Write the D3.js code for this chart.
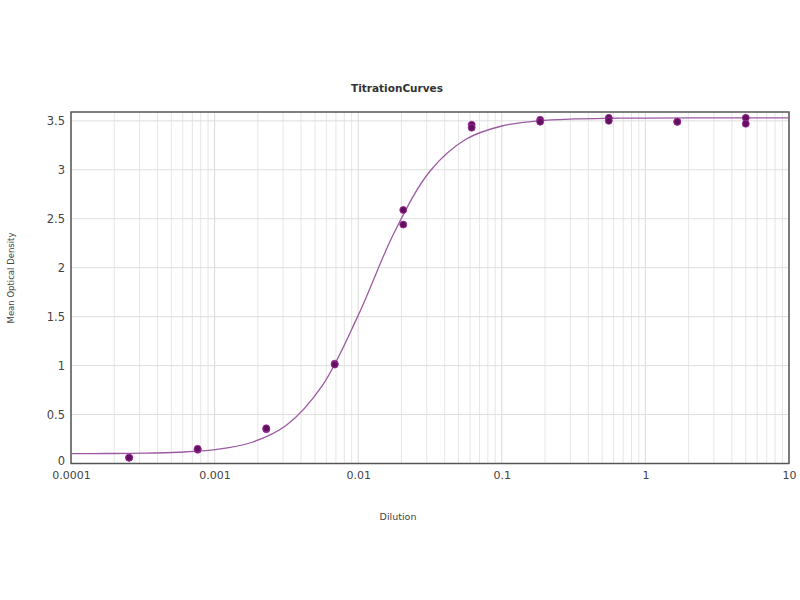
<!DOCTYPE html>
<html><head><meta charset="utf-8">
<script src="https://cdn.jsdelivr.net/npm/d3@7"></script>
<style>
body{margin:0;background:#fff;}
text{font-family:"DejaVu Sans",Arial,sans-serif;}
</style></head>
<body><svg id="c" width="800" height="600"></svg>
<script>
const dilutions = [0.000254, 0.000762, 0.00229, 0.00686, 0.0206, 0.0617, 0.185, 0.556, 1.667, 5];
const rep1 = [0.06, 0.14, 0.35, 1.02, 2.59, 3.46, 3.51, 3.53, 3.49, 3.53];
const rep2 = [0.06, 0.15, 0.36, 1.01, 2.44, 3.43, 3.49, 3.50, 3.49, 3.47];
const curveX = [0.0001, 0.000178, 0.000316, 0.000562, 0.001, 0.00178, 0.00316, 0.00562, 0.01, 0.0178, 0.0316, 0.0562, 0.1, 0.178, 0.316, 0.562, 1, 3.16, 10];
const curveY = [0.101, 0.102, 0.105, 0.115, 0.141, 0.212, 0.391, 0.796, 1.513, 2.357, 2.985, 3.311, 3.447, 3.499, 3.519, 3.526, 3.528, 3.53, 3.53];
const xTicks = [0.0001, 0.001, 0.01, 0.1, 1, 10];
const xTickLabels = ["0.0001", "0.001", "0.01", "0.1", "1", "10"];
const yTicks = [0, 0.5, 1, 1.5, 2, 2.5, 3, 3.5];
const yTickLabels = ["0", "0.5", "1", "1.5", "2", "2.5", "3", "3.5"];

const svg = d3.select("#c");
const L = 71, R = 789, T = 112, B = 463.5;
const x = d3.scaleLog().domain([0.0001, 10]).range([L, R]);
const y = d3.scaleLinear().domain([0, 3.59]).range([B, T]);

// minor vertical grid
const minor = [];
for (let e = -4; e < 1; e++) for (let k = 2; k <= 9; k++) minor.push(k * Math.pow(10, e));
svg.append("g").selectAll("line").data(minor).join("line")
  .attr("x1", d => x(d)).attr("x2", d => x(d)).attr("y1", T).attr("y2", B)
  .attr("stroke", "#e6e6e6").attr("stroke-width", 1);
svg.append("g").selectAll("line").data(xTicks).join("line")
  .attr("x1", d => x(d)).attr("x2", d => x(d)).attr("y1", T).attr("y2", B)
  .attr("stroke", "#dadada").attr("stroke-width", 1);
svg.append("g").selectAll("line").data(yTicks.slice(1)).join("line")
  .attr("x1", L).attr("x2", R).attr("y1", d => y(d)).attr("y2", d => y(d))
  .attr("stroke", "#dedede").attr("stroke-width", 1);

// axes via d3
const xAxis = d3.axisBottom(x).tickValues(xTicks).tickFormat((d, i) => xTickLabels[i]).tickSize(0).tickPadding(8);
const gx = svg.append("g").attr("transform", `translate(0,${B})`).call(xAxis);
gx.select(".domain").remove();
gx.selectAll("text").attr("font-size", 11).attr("fill", "#444");

const yAxis = d3.axisLeft(y).tickValues(yTicks).tickFormat((d, i) => yTickLabels[i]).tickSize(0).tickPadding(6);
const gy = svg.append("g").attr("transform", `translate(${L},0)`).call(yAxis);
gy.select(".domain").remove();
gy.selectAll("text").attr("font-size", 11.5).attr("fill", "#444");
gy.selectAll("text").filter(d => d === 0).attr("dy", "0.12em");

// frame
svg.append("rect").attr("x", L).attr("y", T).attr("width", R - L).attr("height", B - T)
  .attr("fill", "none").attr("stroke", "#555").attr("stroke-width", 1.5);

// fitted curve
const line = d3.line().x(d => x(d[0])).y(d => y(d[1])).curve(d3.curveCatmullRom.alpha(0.5));
svg.append("path").datum(curveX.map((v, i) => [v, curveY[i]]))
  .attr("d", line).attr("fill", "none").attr("stroke", "#9c5aa2").attr("stroke-width", 1.3);

// points
const pts = dilutions.flatMap((d, i) => [[d, rep1[i]], [d, rep2[i]]]);
svg.append("g").selectAll("circle").data(pts).join("circle")
  .attr("cx", d => x(d[0])).attr("cy", d => y(d[1])).attr("r", 3.5)
  .attr("fill", "#621060").attr("stroke", "#a0309c").attr("stroke-width", 0.8);

// titles
svg.append("text").attr("x", 397).attr("y", 92).attr("text-anchor", "middle")
  .attr("font-size", 10.5).attr("font-weight", "bold").attr("fill", "#333").text("TitrationCurves");
svg.append("text").attr("x", 398).attr("y", 520).attr("text-anchor", "middle")
  .attr("font-size", 9.5).attr("fill", "#444").text("Dilution");
svg.append("text").attr("transform", "translate(14,278) rotate(-90)").attr("text-anchor", "middle")
  .attr("font-size", 8.5).attr("fill", "#444").text("Mean Optical Density");
</script></body></html>
